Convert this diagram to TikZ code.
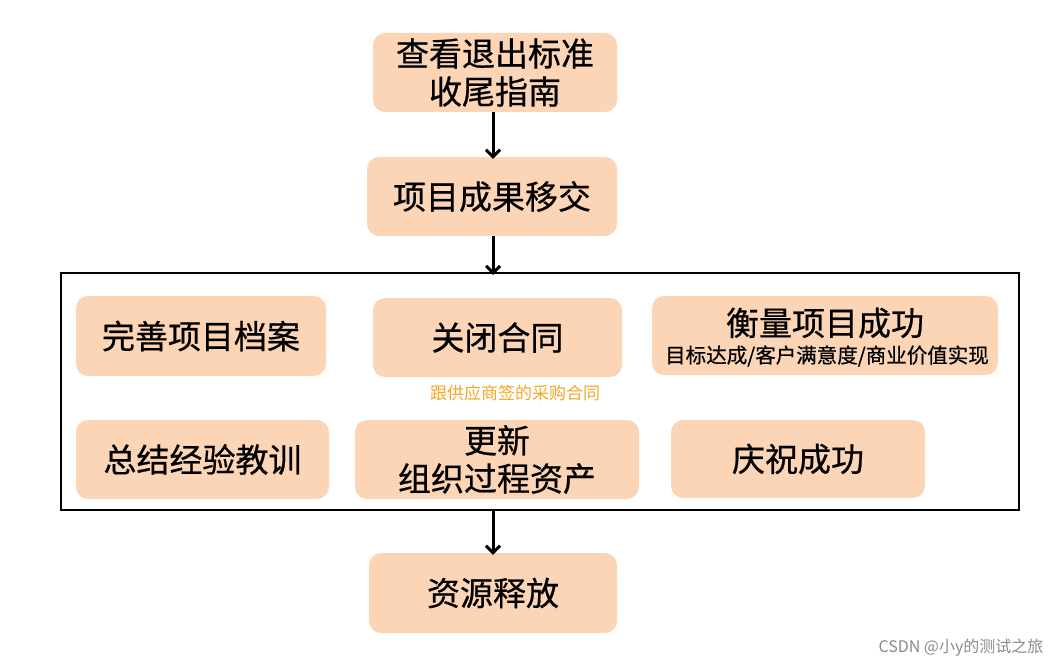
\documentclass[tikz,border=0pt]{standalone}
\usepackage{fontspec}
\setmainfont{Noto Sans CJK SC}
\newfontfamily\heavycjk{Noto Sans CJK SC}[FakeBold=0.6]
\usetikzlibrary{arrows.meta}
\definecolor{peach}{HTML}{FBD5B5}
\definecolor{notecol}{HTML}{F5A623}
\definecolor{wmgray}{HTML}{8A8A8A}
\tikzset{
  pbox/.style={fill=peach, rounded corners=12pt, draw=none, inner sep=0pt, align=center,
     font=\heavycjk\fontsize{33}{38}\selectfont},
  flow/.style={-{Straight Barb[length=7pt,width=14pt,line width=3pt]}, line width=3pt, black},
}
\begin{document}
\begin{tikzpicture}[x=1pt,y=-1pt]
\useasboundingbox (0,0) rectangle (1062,668);
% boxes
\node[pbox, minimum width=244pt, minimum height=79pt] (exit) at (495,72.5) {查看退出标准\\收尾指南};
\node[pbox, minimum width=250pt, minimum height=79pt] (hand) at (492,196.5) {项目成果移交};
\draw[line width=1.8pt] (61,273) rectangle (1019,510);
\coordinate (gtop) at (493,273);
\coordinate (gbot) at (493,510);
\node[pbox, minimum width=250pt, minimum height=80pt] (arch) at (201,336) {完善项目档案};
\node[pbox, minimum width=249pt, minimum height=79pt] (close) at (497.5,337.5) {关闭合同};
\node[pbox, minimum width=346pt, minimum height=79pt] (meas) at (825,335.5) {};
\node[font=\heavycjk\fontsize{33}{38}\selectfont] (measT) at (825,323) {衡量项目成功};
\node[font=\heavycjk\fontsize{20.5}{24}\selectfont] (measS) at (827,356) {目标达成/客户满意度/商业价值实现};
\node[text=notecol, font=\fontsize{17}{20}\selectfont] (note) at (515,393) {跟供应商签的采购合同};
\node[pbox, minimum width=253pt, minimum height=79pt] (less) at (202.5,459.5) {总结经验教训};
\node[pbox, minimum width=284pt, minimum height=79pt] (opa) at (497,459.5) {更新\\组织过程资产};
\node[pbox, minimum width=254pt, minimum height=78pt] (cele) at (798,459) {庆祝成功};
\node[pbox, minimum width=248pt, minimum height=80pt] (rel) at (493,593) {资源释放};
% arrows
\draw[flow] (exit.south -| gtop) -- ([yshift=-2pt]hand.north -| gtop);
\draw[flow] (hand.south -| gtop) -- ([yshift=-2pt]gtop);
\draw[flow] (gbot) -- ([yshift=-2pt]rel.north -| gbot);
% watermark
\node[text=wmgray, font=\fontsize{16}{20}\selectfont, anchor=east] (wm) at (1047,648) {CSDN @小y的测试之旅};
\end{tikzpicture}
\end{document}
